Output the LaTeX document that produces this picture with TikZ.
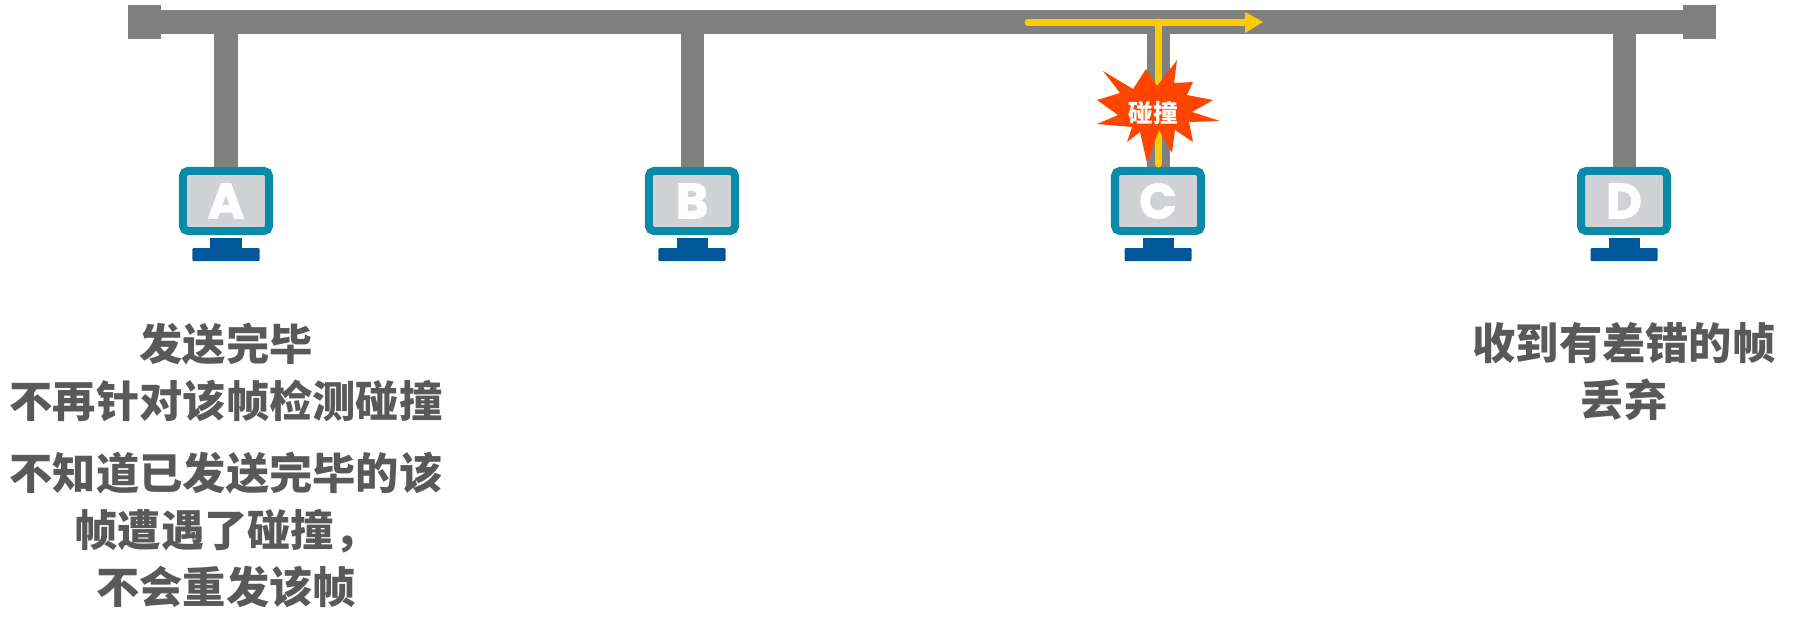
\documentclass[tikz,border=0pt]{standalone}
\usepackage{fontspec}
\setmainfont{Noto Sans CJK SC}
\newfontfamily\lettersfont[BoldFeatures={FakeBold=2}]{Poppins}
\usetikzlibrary{positioning}
\definecolor{bus_gray}{HTML}{808080}
\definecolor{screen_teal}{HTML}{0A8CA8}
\definecolor{screen_gray}{HTML}{D0D2D6}
\definecolor{stand_blue}{HTML}{00589A}
\definecolor{note_gray}{HTML}{595959}
\definecolor{frame_yellow}{HTML}{FFCC00}
\definecolor{burst_red}{HTML}{FF4500}
\tikzstyle{bus_line} = [
    rectangle, 
    fill=bus_gray, 
    inner sep=0pt, 
    outer sep=0pt, 
    minimum width=15.22cm, 
    minimum height=0.24cm
]
\tikzstyle{bus_end} = [
    rectangle, 
    fill=bus_gray, 
    inner sep=0pt, 
    outer sep=0pt, 
    minimum width=0.33cm, 
    minimum height=0.33cm
]
\tikzstyle{stub} = [
    draw=bus_gray, 
    line width=0.23cm
]
\tikzstyle{screen_box} = [
    rectangle, 
    rounded corners=0.05cm, 
    text=white, 
    draw=screen_teal, 
    fill=screen_gray, 
    line width=0.08cm, 
    inner sep=0pt, 
    minimum width=0.86cm, 
    minimum height=0.6cm, 
    font=\lettersfont\bfseries\fontsize{14}{14}\selectfont
]
\tikzstyle{stand_neck} = [
    rectangle, 
    fill=stand_blue, 
    inner sep=0pt, 
    outer sep=0pt, 
    minimum width=0.31cm, 
    minimum height=0.1cm
]
\tikzstyle{stand_base} = [
    rectangle, 
    rounded corners=0.01cm, 
    fill=stand_blue, 
    inner sep=0pt, 
    outer sep=0pt, 
    minimum width=0.67cm, 
    minimum height=0.13cm
]
\tikzstyle{note} = [
    align=center, 
    inner sep=0pt, 
    text=note_gray, 
    font=\bfseries\fontsize{12.3}{16.2}\selectfont
]
\tikzstyle{frame_line} = [
    draw=frame_yellow, 
    line width=0.07cm, 
    line cap=round
]

\begin{document}
\begin{tikzpicture}[x=0.01cm, y=-0.01cm]
\useasboundingbox (0,0) rectangle (1804,627);
% bus and its two ends
\node [bus_line] (bus) at (922,22) {};
\node [bus_end, left=0pt of bus] (bus_left) {};
\node [bus_end, right=0pt of bus] (bus_right) {};
% the four stations
\node [screen_box] (A) at (226,201) {A};
\node [screen_box] (B) at (692,201) {B};
\node [screen_box] (C) at (1158,201) {C};
\node [screen_box] (D) at (1624,201) {D};
\node [stand_neck, below=0.03cm of A] (neck_a) {};
\node [stand_neck, below=0.03cm of B] (neck_b) {};
\node [stand_neck, below=0.03cm of C] (neck_c) {};
\node [stand_neck, below=0.03cm of D] (neck_d) {};
\node [stand_base, below=0pt of neck_a] (base_a) {};
\node [stand_base, below=0pt of neck_b] (base_b) {};
\node [stand_base, below=0pt of neck_c] (base_c) {};
\node [stand_base, below=0pt of neck_d] (base_d) {};
% drop lines
\draw [stub] (A.north |- bus) -- (A.north);
\draw [stub] (B.north |- bus) -- (B.north);
\draw [stub] (C.north |- bus) -- (C.north);
\draw [stub] (D.north |- bus) -- (D.north);
% frame on the cable
\coordinate (frame_start) at (1028,22);
\coordinate (frame_neck) at (1248,22);
\coordinate (frame_tip) at (1263,22);
\coordinate (frame_join) at (C.north |- frame_start);
\draw [frame_line] (frame_start) -- (frame_neck);
\fill [frame_yellow] (1245,12) -- (frame_tip) -- (1245,33) -- cycle;
\draw [frame_line] (frame_join) -- ([yshift=0.03cm]C.north);
% collision burst
\fill [burst_red] (1103,71) -- (1133,89) -- (1146,69) -- (1157,86) -- (1177,60) -- (1174,83)
    -- (1193,82) -- (1187,95) -- (1213,100) -- (1192,112) -- (1220,121) -- (1189,122)
    -- (1193,142) -- (1175,130) -- (1172,153) -- (1159,130) -- (1147,163) -- (1140,132)
    -- (1127,142) -- (1132,127) -- (1097,124) -- (1118,115) -- (1097,100) -- (1120,93) -- cycle;
\node [inner sep=0pt, white, font=\bfseries\fontsize{7}{8}\selectfont] (collision) at (1153,113) {碰撞};
% notes under the stations
\node [note] (note_a_top) at (226,372) {发送完毕\\不再针对该帧检测碰撞};
\node [note] (note_a_bottom) at (226,530) {不知道已发送完毕的该\\帧遭遇了碰撞，\\不会重发该帧};
\node [note] (note_d) at (1624,372) {收到有差错的帧\\丢弃};
\end{tikzpicture}
\end{document}
